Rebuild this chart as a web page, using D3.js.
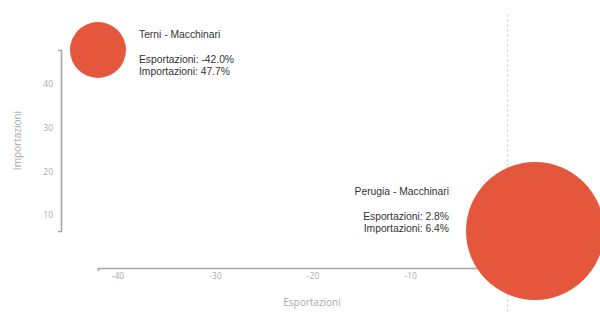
<!DOCTYPE html>
<html>
<head>
<meta charset="utf-8">
<script src="https://cdn.jsdelivr.net/npm/d3@7"></script>
<style>
  body { margin: 0; background: #fff; }
  .axis path { stroke: #a8a8a8; stroke-width: 1.6px; }
  .axis line { stroke: #a8a8a8; stroke-width: 1.6px; }
  .axis text { fill: #aaa; font-family: "Open Sans", sans-serif; font-size: 8.5px; }
  .axis-title { fill: #aaa; font-family: "Open Sans", sans-serif; font-size: 10px; }
  .label { fill: #333; font-family: "Liberation Sans", Arial, sans-serif; font-size: 10.3px; }
</style>
</head>
<body>
<svg></svg>
<script>
(() => {
    const width = 600;
    const height = 314;

    // data
    const names = ["Terni - Macchinari", "Perugia - Macchinari"];
    const esportazioni = [-42.0, 2.8];
    const importazioni = [47.7, 6.4];
    const sizes = [82, 498];
    const xTicks = [-40, -30, -20, -10];
    const yTicks = [10, 20, 30, 40];

    const points = names.map((n, i) => ({
        name: n, x: esportazioni[i], y: importazioni[i], size: sizes[i]
    }));

    const svg = d3.select("svg")
        .attr("width", width)
        .attr("height", height);

    const x = d3.scaleLinear()
        .domain(d3.extent(esportazioni))
        .range([98, 535]);

    const y = d3.scaleLinear()
        .domain(d3.extent(importazioni))
        .range([231, 50]);

    const r = d3.scaleSqrt()
        .domain([0, d3.max(sizes)])
        .range([0, 69]);

    // zero line
    svg.append("line")
        .attr("x1", x(0)).attr("x2", x(0))
        .attr("y1", 14).attr("y2", height)
        .attr("stroke", "#d4d4d4")
        .attr("stroke-dasharray", "3,2");

    svg.append("g")
        .attr("class", "axis")
        .attr("transform", "translate(0,268)")
        .call(d3.axisBottom(x).tickValues(xTicks).tickSizeInner(0).tickSizeOuter(3).tickPadding(5))
        .selectAll("text").text(d => d);

    svg.append("g")
        .attr("class", "axis")
        .attr("transform", "translate(61,0)")
        .call(d3.axisLeft(y).tickValues(yTicks).tickSizeInner(0).tickSizeOuter(3).tickPadding(8));

    svg.append("text")
        .attr("class", "axis-title")
        .attr("text-anchor", "middle")
        .attr("x", 312).attr("y", 306)
        .text("Esportazioni");

    svg.append("text")
        .attr("class", "axis-title")
        .attr("text-anchor", "middle")
        .attr("transform", `translate(21,${(y.range()[0] + y.range()[1]) / 2}) rotate(-90)`)
        .text("Importazioni");

    const bubble = svg.append("g")
        .selectAll("g")
        .data(points)
        .enter()
        .append("g");

    bubble.append("circle")
        .attr("cx", d => x(d.x))
        .attr("cy", d => y(d.y))
        .attr("r", d => r(d.size))
        .attr("fill", "#e4573d");

    const label = bubble.append("text")
        .attr("class", "label")
        .attr("text-anchor", d => d.x < 0 ? "start" : "end")
        .attr("transform", d => {
            const rr = r(d.size);
            const tx = d.x < 0 ? x(d.x) + rr + 13 : x(d.x) - rr - 17;
            return `translate(${tx},${y(d.y) - rr * 0.58})`;
        });

    label.append("tspan").attr("x", 0).attr("dy", 4).text(d => d.name);
    label.append("tspan").attr("x", 0).attr("dy", 25)
        .text(d => "Esportazioni: " + d.x.toFixed(1) + "%");
    label.append("tspan").attr("x", 0).attr("dy", 12.5)
        .text(d => "Importazioni: " + d.y.toFixed(1) + "%");
})();
</script>
</body>
</html>
